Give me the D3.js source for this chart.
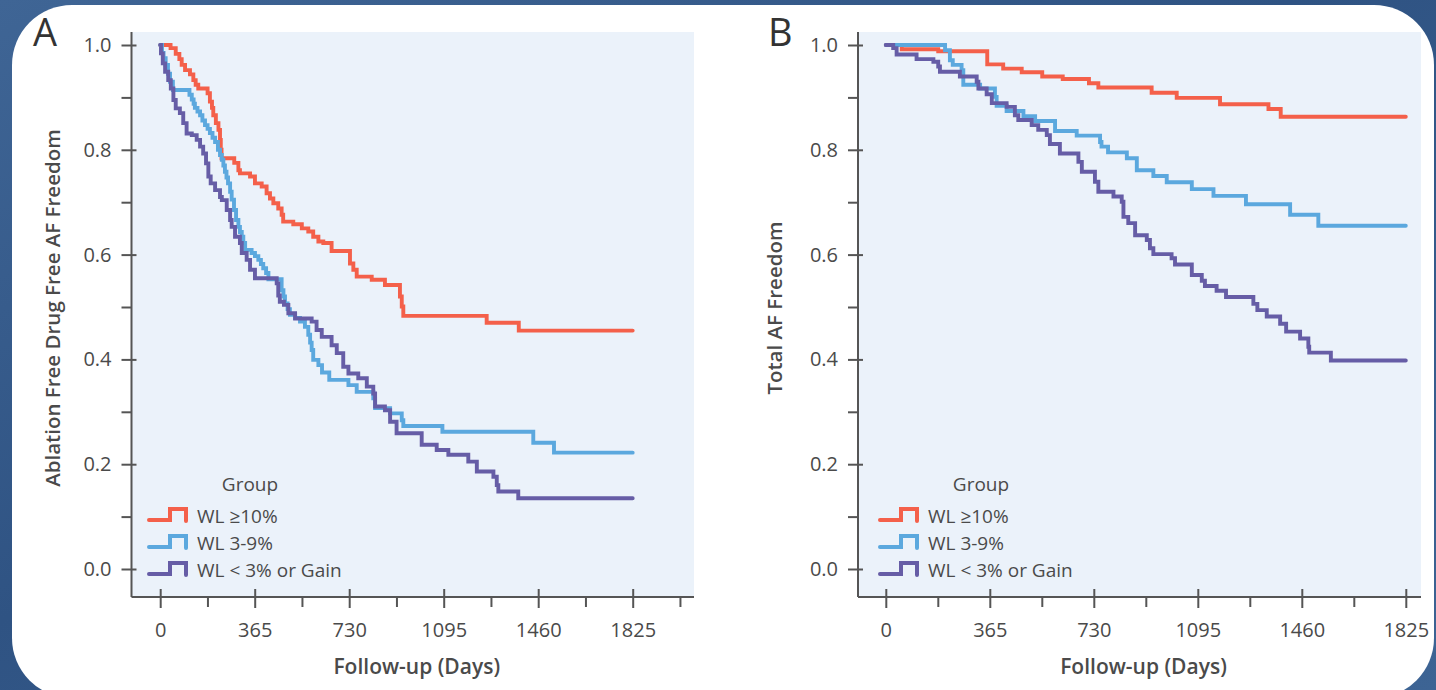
<!DOCTYPE html>
<html>
<head>
<meta charset="utf-8">
<script src="https://cdn.jsdelivr.net/npm/d3@7"></script>
<style>
  body { margin: 0; background: #34598a; }
  svg { display: block; }
</style>
</head>
<body>
<svg id="chart" width="1436" height="690"></svg>
<script>
// ---- data ----
var dayTicks = [0, 365, 730, 1095, 1460, 1825];
var survTicks = [0, 0.2, 0.4, 0.6, 0.8, 1.0];
var survMinor = [0.1, 0.3, 0.5, 0.7, 0.9];
var groupNames = ["WL \u226510%", "WL 3-9%", "WL < 3% or Gain"];
var groupColors = ["#f4604a", "#5ba8de", "#665da6"];

// Panel A: ablation free, drug free AF freedom  [day, survival]
var ablationWL10 = [[0,1],[40,0.994],[60,0.983],[74,0.973],[83,0.962],[96,0.952],[115,0.944],[128,0.933],[137,0.924],[147,0.917],[183,0.908],[192,0.892],[200,0.880],[205,0.866],[215,0.851],[225,0.838],[231,0.819],[234,0.800],[237,0.784],[286,0.775],[302,0.761],[308,0.755],[347,0.749],[366,0.736],[392,0.730],[411,0.717],[424,0.707],[437,0.698],[456,0.688],[469,0.676],[475,0.663],[514,0.658],[547,0.650],[572,0.644],[591,0.634],[611,0.625],[630,0.622],[662,0.607],[733,0.583],[746,0.571],[759,0.558],[817,0.552],[868,0.542],[926,0.520],[933,0.501],[939,0.483],[1261,0.470],[1385,0.455],[1825,0.455]];
var ablationWL39 = [[0,1],[7,0.985],[13,0.975],[21,0.962],[30,0.945],[38,0.930],[49,0.914],[113,0.905],[122,0.896],[129,0.888],[134,0.880],[144,0.873],[154,0.866],[163,0.856],[173,0.847],[183,0.840],[192,0.832],[202,0.823],[212,0.815],[223,0.800],[231,0.790],[238,0.781],[244,0.770],[250,0.758],[256,0.747],[262,0.736],[270,0.720],[276,0.705],[285,0.685],[293,0.666],[302,0.653],[308,0.643],[315,0.634],[321,0.622],[328,0.609],[353,0.603],[366,0.597],[379,0.590],[389,0.582],[398,0.574],[409,0.565],[418,0.553],[469,0.532],[476,0.520],[482,0.507],[492,0.496],[501,0.485],[521,0.479],[540,0.472],[559,0.462],[572,0.447],[579,0.432],[585,0.418],[591,0.399],[611,0.389],[625,0.375],[653,0.361],[727,0.351],[759,0.338],[823,0.326],[830,0.307],[888,0.297],[933,0.284],[939,0.273],[1090,0.262],[1441,0.241],[1521,0.222],[1825,0.222]];
var ablationWLgain = [[0,1],[3,0.984],[10,0.965],[19,0.949],[31,0.933],[41,0.917],[51,0.895],[60,0.879],[76,0.870],[89,0.851],[102,0.831],[122,0.828],[141,0.819],[154,0.806],[166,0.793],[177,0.774],[186,0.749],[195,0.736],[212,0.723],[231,0.710],[238,0.704],[257,0.685],[270,0.666],[276,0.653],[289,0.634],[308,0.622],[315,0.603],[334,0.590],[347,0.571],[366,0.555],[450,0.545],[456,0.522],[462,0.510],[478,0.504],[495,0.488],[521,0.478],[585,0.472],[604,0.456],[624,0.443],[662,0.427],[682,0.412],[707,0.386],[727,0.373],[765,0.364],[798,0.348],[823,0.335],[830,0.310],[868,0.303],[888,0.281],[913,0.259],[1010,0.237],[1068,0.227],[1113,0.218],[1190,0.205],[1223,0.186],[1287,0.176],[1300,0.160],[1306,0.148],[1383,0.135],[1825,0.135]];

// Panel B: total AF freedom
var totalWL10 = [[0,1],[56,0.992],[184,0.988],[356,0.963],[412,0.955],[477,0.948],[549,0.940],[621,0.935],[713,0.927],[746,0.919],[933,0.909],[1021,0.899],[1173,0.887],[1343,0.878],[1386,0.863],[1825,0.863]];
var totalWL39 = [[0,1],[208,0.990],[225,0.971],[235,0.962],[266,0.952],[272,0.924],[331,0.917],[383,0.901],[389,0.884],[424,0.874],[483,0.864],[524,0.855],[594,0.836],[670,0.827],[752,0.815],[757,0.806],[780,0.795],[846,0.784],[881,0.761],[939,0.750],[986,0.738],[1074,0.725],[1150,0.712],[1264,0.696],[1419,0.676],[1518,0.655],[1825,0.655]];
var totalWLgain = [[0,1],[26,0.994],[38,0.982],[108,0.973],[167,0.968],[184,0.959],[190,0.949],[260,0.940],[319,0.930],[325,0.917],[354,0.906],[372,0.889],[424,0.882],[453,0.866],[465,0.857],[512,0.847],[535,0.838],[565,0.828],[576,0.811],[611,0.793],[676,0.777],[688,0.758],[734,0.739],[746,0.720],[799,0.711],[828,0.701],[834,0.672],[851,0.660],[875,0.637],[916,0.628],[927,0.612],[939,0.601],[1003,0.593],[1015,0.581],[1074,0.561],[1109,0.550],[1120,0.540],[1161,0.531],[1194,0.519],[1290,0.506],[1304,0.494],[1337,0.482],[1384,0.468],[1405,0.453],[1454,0.440],[1483,0.424],[1486,0.413],[1562,0.398],[1825,0.398]];

var fontFamily = "'Open Sans', 'Noto Sans', sans-serif",
    textColor = "#4a4a4a",
    axisColor = "#555555";

var svg = d3.select("#chart");
var defs = svg.append("defs");

// dark blue backdrop with a soft diagonal sheen
var bgGrad = defs.append("linearGradient")
    .attr("id", "bgGrad")
    .attr("x1", "0%").attr("y1", "0%")
    .attr("x2", "100%").attr("y2", "100%");
bgGrad.append("stop").attr("offset", "0%").style("stop-color", "#3f6595");
bgGrad.append("stop").attr("offset", "45%").style("stop-color", "#2f5383");
bgGrad.append("stop").attr("offset", "100%").style("stop-color", "#3d6494");

svg.append("rect")
    .attr("width", 1436).attr("height", 690)
    .attr("fill", "url(#bgGrad)");

// white card
svg.append("rect")
    .attr("x", 12).attr("y", 5)
    .attr("width", 1422).attr("height", 693)
    .attr("rx", 60).attr("ry", 60)
    .attr("fill", "#ffffff");

function drawPanel(cfg) {
    var top = 32, bottom = 597;
    var g = svg.append("g")
        .style("font-family", fontFamily);

    var x = d3.scaleLinear().domain([0, 1825]).range(cfg.xRange);
    var y = d3.scaleLinear().domain([0, 1]).range([569, 45]);

    // plot background
    g.append("rect")
        .attr("x", cfg.left).attr("y", top)
        .attr("width", cfg.right - cfg.left)
        .attr("height", bottom - top)
        .attr("fill", "#ebf2fa");

    // survival curves (red, blue, then purple on top)
    var line = d3.line()
        .x(function (d) { return x(d[0]); })
        .y(function (d) { return y(d[1]); })
        .curve(d3.curveStepAfter);

    cfg.series.forEach(function (s, i) {
        g.append("path")
            .datum(s)
            .attr("d", line)
            .attr("fill", "none")
            .attr("stroke", groupColors[i])
            .attr("stroke-width", 3.9)
            .attr("stroke-linecap", "round");
    });

    // axis lines
    g.append("line")
        .attr("x1", cfg.left).attr("x2", cfg.left)
        .attr("y1", top).attr("y2", bottom)
        .attr("stroke", axisColor).attr("stroke-width", 2);
    g.append("line")
        .attr("x1", cfg.left).attr("x2", cfg.right)
        .attr("y1", bottom).attr("y2", bottom)
        .attr("stroke", axisColor).attr("stroke-width", 2);

    // y axis ticks
    var ya = g.append("g")
        .attr("transform", "translate(" + cfg.left + ",0)")
        .call(d3.axisLeft(y).tickValues(survTicks).tickFormat(d3.format(".1f"))
            .tickSize(10).tickPadding(10));
    ya.select(".domain").remove();
    ya.selectAll(".tick line").attr("x1", 5).attr("stroke", axisColor).attr("stroke-width", 2);
    ya.selectAll(".tick text")
        .style("font-family", fontFamily).style("font-size", "20px").attr("fill", textColor);

    var yMinor = g.append("g")
        .attr("transform", "translate(" + cfg.left + ",0)")
        .call(d3.axisLeft(y).tickValues(survMinor).tickFormat("").tickSize(10));
    yMinor.select(".domain").remove();
    yMinor.selectAll(".tick line").attr("stroke", axisColor).attr("stroke-width", 2);

    // x axis ticks
    var xa = g.append("g")
        .attr("transform", "translate(0," + bottom + ")")
        .call(d3.axisBottom(x).tickValues(dayTicks).tickFormat(d3.format("d"))
            .tickSize(11).tickPadding(15));
    xa.select(".domain").remove();
    xa.selectAll(".tick line").attr("y1", -8).attr("stroke", axisColor).attr("stroke-width", 2);
    xa.selectAll(".tick text")
        .style("font-family", fontFamily).style("font-size", "20px").attr("fill", textColor);

    var xMinorVals = d3.range(182.5, x.invert(cfg.right), 365);
    var xMinor = g.append("g")
        .attr("transform", "translate(0," + bottom + ")")
        .call(d3.axisBottom(x).tickValues(xMinorVals).tickFormat("").tickSize(10));
    xMinor.select(".domain").remove();
    xMinor.selectAll(".tick line").attr("stroke", axisColor).attr("stroke-width", 2);

    // axis titles
    g.append("text")
        .attr("x", (cfg.left + cfg.right) / 2 + 4)
        .attr("y", 674)
        .attr("text-anchor", "middle")
        .attr("fill", textColor)
        .style("font-size", "21px").style("font-weight", 600)
        .text("Follow-up (Days)");

    g.append("text")
        .attr("transform", "translate(" + cfg.yTitleX + ",308) rotate(-90)")
        .attr("text-anchor", "middle")
        .attr("fill", textColor)
        .style("font-size", "20.5px").style("font-weight", 600)
        .text(cfg.yTitle);

    // panel letter
    g.append("text")
        .attr("x", cfg.letterX).attr("y", 46)
        .attr("fill", "#333333")
        .style("font-size", "38px").style("font-weight", 500)
        .text(cfg.letter);

    // legend
    var lx = cfg.legendX;
    g.append("text")
        .attr("x", lx + 101).attr("y", 491)
        .attr("text-anchor", "middle")
        .attr("fill", textColor)
        .style("font-size", "19px")
        .text("Group");

    groupNames.forEach(function (name, i) {
        var by = 523 + i * 27;
        g.append("path")
            .attr("d", "M" + lx + "," + (by - 3) + "H" + (lx + 21) + "V" + (by - 14) +
                "H" + (lx + 37) + "V" + (by - 2))
            .attr("fill", "none")
            .attr("stroke", groupColors[i])
            .attr("stroke-width", 4)
            .attr("stroke-linecap", "round");
        g.append("text")
            .attr("x", lx + 48).attr("y", by)
            .attr("fill", textColor)
            .style("font-size", "19px")
            .text(name);
    });
}

drawPanel({
    letter: "A", letterX: 33,
    left: 131.5, right: 694,
    xRange: [160.2, 632.7],
    yTitle: "Ablation Free Drug Free AF Freedom", yTitleX: 60,
    legendX: 149,
    series: [ablationWL10, ablationWL39, ablationWLgain]
});

drawPanel({
    letter: "B", letterX: 768,
    left: 858, right: 1421,
    xRange: [885.8, 1405.8],
    yTitle: "Total AF Freedom", yTitleX: 782,
    legendX: 880,
    series: [totalWL10, totalWL39, totalWLgain]
});
</script>
</body>
</html>
